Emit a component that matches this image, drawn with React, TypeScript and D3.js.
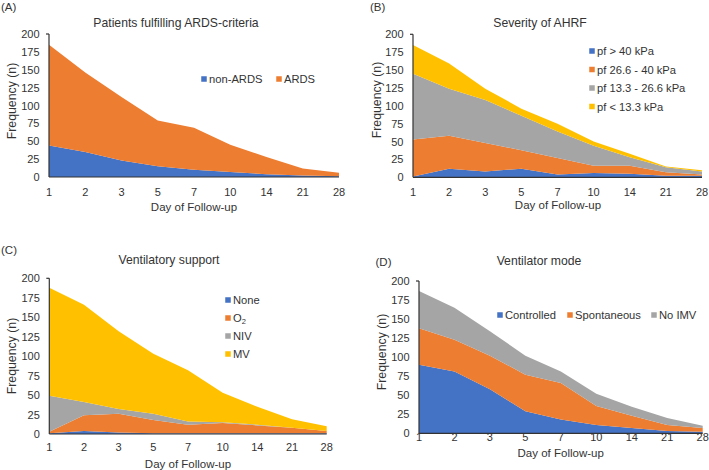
import * as d3 from "d3";

// shared categories and ticks
const days = ["1", "2", "3", "5", "7", "10", "14", "21", "28"];
const yTicks = [0, 25, 50, 75, 100, 125, 150, 175, 200];

// (A) Patients fulfilling ARDS-criteria
const ardsKeys = ["non-ARDS", "ARDS"];
const nonArds = [44, 35, 23, 15, 10, 7, 4, 2, 1];
const ards = [141, 111, 89, 64, 59, 38, 24, 10, 5];

// (B) Severity of AHRF
const ahrfKeys = ["pf > 40 kPa", "pf 26.6 - 40 kPa", "pf 13.3 - 26.6 kPa", "pf < 13.3 kPa"];
const pfOver40 = [1, 12, 8, 12, 4, 6, 5, 2, 2];
const pf26to40 = [52, 46, 40, 26, 23, 10, 11, 5, 2];
const pf13to26 = [92, 66, 60, 48, 37, 28, 12, 7, 4];
const pfUnder13 = [40, 35, 16, 10, 11, 6, 5, 1, 2];

// (C) Ventilatory support
const supportKeys = ["None", "O2", "NIV", "MV"];
const noneSupport = [1, 4, 2, 1, 1, 1, 1, 1, 1];
const oxygen = [2, 20, 24, 17, 11, 13, 10, 7, 3];
const niv = [46, 17, 6, 8, 4, 1, 1, 0, 0];
const mv = [139, 125, 100, 77, 66, 38, 23, 11, 6];

// (D) Ventilator mode
const modeKeys = ["Controlled", "Spontaneous", "No IMV"];
const controlled = [90, 81, 58, 29, 18, 11, 7, 3, 2];
const spontaneous = [48, 42, 44, 48, 48, 25, 16, 8, 5];
const noImv = [49, 42, 32, 25, 15, 16, 12, 9, 3];

const colors = ["#4472C4", "#ED7D31", "#A5A5A5", "#FFC000"];
const font = "'Liberation Sans', Arial, Helvetica, sans-serif";
const ink = "#333";

type Layout = {
  plot: { left: number; right: number; top: number; bottom: number };
  tag: [number, number];
  title: [number, number];
  yLabel: [number, number];
  xLabel: [number, number];
  xTickY: number;
  legend: { horizontal: boolean; x: number[]; y: number[] };
};

function Panel({
  tag,
  title,
  keys,
  series,
  layout,
}: {
  tag: string;
  title: string;
  keys: string[];
  series: number[][];
  layout: Layout;
}) {
  const { plot } = layout;
  const x = d3.scalePoint<string>().domain(days).range([plot.left, plot.right]);
  const y = d3.scaleLinear().domain([0, 200]).range([plot.bottom, plot.top]);

  const rows = days.map((d, i) => {
    const row: Record<string, number | string> = { day: d };
    keys.forEach((k, j) => (row[k] = series[j][i]));
    return row;
  });
  const stacked = d3.stack<any>().keys(keys)(rows);
  const area = d3
    .area<any>()
    .x((d) => x(d.data.day) as number)
    .y0((d) => y(d[0]))
    .y1((d) => y(d[1]));

  return (
    <g fontFamily={font} fill={ink}>
      <text x={layout.tag[0]} y={layout.tag[1]} fontSize={11.5} dominantBaseline="central">
        {tag}
      </text>
      <text
        x={layout.title[0]}
        y={layout.title[1]}
        fontSize={12.2}
        textAnchor="middle"
        dominantBaseline="central"
      >
        {title}
      </text>

      {stacked.map((s, i) => (
        <path key={s.key} d={area(s) as string} fill={colors[i]} stroke="none" />
      ))}

      <line x1={plot.left} x2={plot.left} y1={plot.top} y2={plot.bottom} stroke={ink} strokeWidth={1.2} />
      <line x1={plot.left - 3} x2={plot.left} y1={plot.top} y2={plot.top} stroke={ink} strokeWidth={1.2} />
      <line x1={plot.left} x2={plot.right} y1={plot.bottom} y2={plot.bottom} stroke={ink} strokeWidth={1.2} />

      {yTicks.map((t) => (
        <text
          key={t}
          x={plot.left - 9.5}
          y={y(t)}
          fontSize={11}
          textAnchor="end"
          dominantBaseline="central"
        >
          {t}
        </text>
      ))}
      {days.map((d) => (
        <text
          key={d}
          x={x(d)}
          y={layout.xTickY}
          fontSize={11}
          textAnchor="middle"
          dominantBaseline="central"
        >
          {d}
        </text>
      ))}

      <text
        transform={`translate(${layout.yLabel[0]},${layout.yLabel[1]}) rotate(-90)`}
        fontSize={12.3}
        textAnchor="middle"
        dominantBaseline="central"
      >
        Frequency (n)
      </text>
      <text
        x={layout.xLabel[0]}
        y={layout.xLabel[1]}
        fontSize={11.5}
        textAnchor="middle"
        dominantBaseline="central"
      >
        Day of Follow-up
      </text>

      {keys.map((k, i) => {
        const lx = layout.legend.horizontal ? layout.legend.x[i] : layout.legend.x[0];
        const ly = layout.legend.horizontal ? layout.legend.y[0] : layout.legend.y[i];
        return (
          <g key={k}>
            <rect x={lx - 2.75} y={ly - 2.75} width={5.5} height={5.5} fill={colors[i]} />
            <text x={lx + 5} y={ly} fontSize={11.2} dominantBaseline="central">
              {k === "O2" ? (
                <>
                  O<tspan fontSize={7.5} dy={3}>2</tspan>
                </>
              ) : (
                k
              )}
            </text>
          </g>
        );
      })}
    </g>
  );
}

const layoutA: Layout = {
  plot: { left: 49, right: 339, top: 34, bottom: 177 },
  tag: [1, 7],
  title: [176, 23],
  yLabel: [12, 101],
  xLabel: [194, 207],
  xTickY: 192,
  legend: { horizontal: true, x: [204, 279], y: [79] },
};

const layoutB: Layout = {
  plot: { left: 413, right: 702, top: 34.3, bottom: 177.3 },
  tag: [370, 7],
  title: [540, 23],
  yLabel: [377, 100],
  xLabel: [558, 205],
  xTickY: 192,
  legend: { horizontal: false, x: [592], y: [51, 69.5, 88, 106.5] },
};

const layoutC: Layout = {
  plot: { left: 49.3, right: 326.7, top: 278.3, bottom: 434 },
  tag: [1, 250],
  title: [169, 260],
  yLabel: [12, 356],
  xLabel: [188, 464],
  xTickY: 447,
  legend: { horizontal: false, x: [228], y: [300, 318, 336, 354] },
};

const layoutD: Layout = {
  plot: { left: 419, right: 702.7, top: 281, bottom: 433.3 },
  tag: [375.5, 261.5],
  title: [539, 261],
  yLabel: [381.7, 352],
  xLabel: [560.7, 453],
  xTickY: 437,
  legend: { horizontal: true, x: [500, 570, 654], y: [315] },
};

export default function App() {
  return (
    <div style={{ position: "absolute", left: 0, top: 0 }}>
      <svg width={709} height={470} style={{ display: "block", background: "#fff" }}>
        <Panel
          tag="(A)"
          title="Patients fulfilling ARDS-criteria"
          keys={ardsKeys}
          series={[nonArds, ards]}
          layout={layoutA}
        />
        <Panel
          tag="(B)"
          title="Severity of AHRF"
          keys={ahrfKeys}
          series={[pfOver40, pf26to40, pf13to26, pfUnder13]}
          layout={layoutB}
        />
        <Panel
          tag="(C)"
          title="Ventilatory support"
          keys={supportKeys}
          series={[noneSupport, oxygen, niv, mv]}
          layout={layoutC}
        />
        <Panel
          tag="(D)"
          title="Ventilator mode"
          keys={modeKeys}
          series={[controlled, spontaneous, noImv]}
          layout={layoutD}
        />
      </svg>
    </div>
  );
}
